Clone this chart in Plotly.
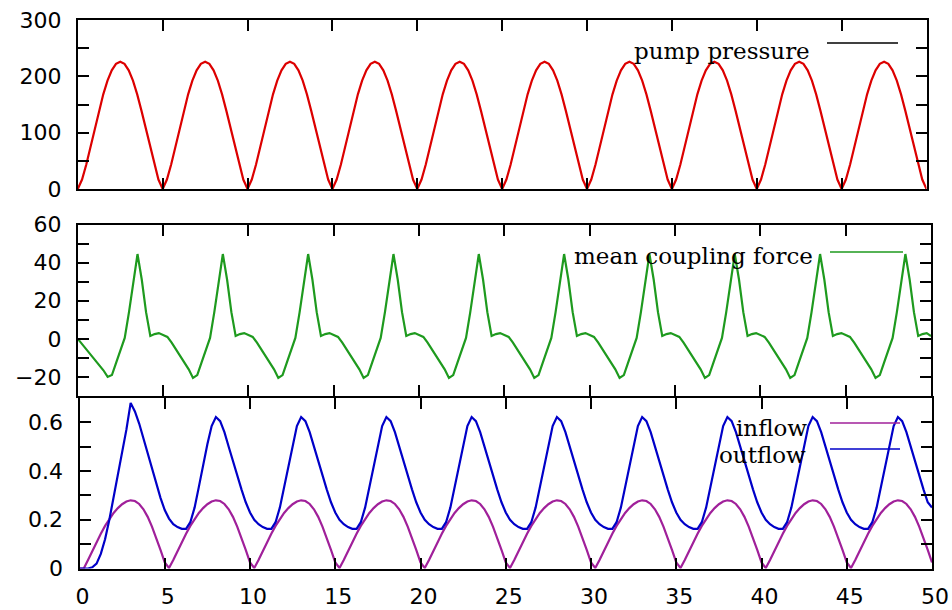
import numpy as np
import plotly.graph_objects as go

# ---- data -------------------------------------------------------------
# time axis (s), sampled every 0.25 s
time_s = np.round(np.arange(0, 50.001, 0.25), 2)

pump_pressure = [
    0, 16.8, 43.6, 74.8, 107.4, 139.1, 168, 192.3, 210.7, 222.1, 226, 222.1, 210.7, 192.3, 168, 139.1, 107.4, 74.8, 43.6, 16.8,
    0, 16.8, 43.6, 74.8, 107.4, 139.1, 168, 192.3, 210.7, 222.1, 226, 222.1, 210.7, 192.3, 168, 139.1, 107.4, 74.8, 43.6, 16.8,
    0, 16.8, 43.6, 74.8, 107.4, 139.1, 168, 192.3, 210.7, 222.1, 226, 222.1, 210.7, 192.3, 168, 139.1, 107.4, 74.8, 43.6, 16.8,
    0, 16.8, 43.6, 74.8, 107.4, 139.1, 168, 192.3, 210.7, 222.1, 226, 222.1, 210.7, 192.3, 168, 139.1, 107.4, 74.8, 43.6, 16.8,
    0, 16.8, 43.6, 74.8, 107.4, 139.1, 168, 192.3, 210.7, 222.1, 226, 222.1, 210.7, 192.3, 168, 139.1, 107.4, 74.8, 43.6, 16.8,
    0, 16.8, 43.6, 74.8, 107.4, 139.1, 168, 192.3, 210.7, 222.1, 226, 222.1, 210.7, 192.3, 168, 139.1, 107.4, 74.8, 43.6, 16.8,
    0, 16.8, 43.6, 74.8, 107.4, 139.1, 168, 192.3, 210.7, 222.1, 226, 222.1, 210.7, 192.3, 168, 139.1, 107.4, 74.8, 43.6, 16.8,
    0, 16.8, 43.6, 74.8, 107.4, 139.1, 168, 192.3, 210.7, 222.1, 226, 222.1, 210.7, 192.3, 168, 139.1, 107.4, 74.8, 43.6, 16.8,
    0, 16.8, 43.6, 74.8, 107.4, 139.1, 168, 192.3, 210.7, 222.1, 226, 222.1, 210.7, 192.3, 168, 139.1, 107.4, 74.8, 43.6, 16.8,
    0, 16.8, 43.6, 74.8, 107.4, 139.1, 168, 192.3, 210.7, 222.1, 226, 222.1, 210.7, 192.3, 168, 139.1, 107.4, 74.8, 43.6, 16.8,
    0,
]

mean_coupling_force = [
    0, -2.8, -5.5, -8.3, -11, -13.8, -16.5, -20, -19, -12.5, -6, 0.5, 14, 30, 44.5, 31, 14, 1.5, 2.5, 3,
    2, 1, -2, -5.5, -9, -12.5, -16, -20.5, -19, -12.5, -6, 0.5, 14, 30, 44.5, 31, 14, 1.5, 2.5, 3,
    2, 1, -2, -5.5, -9, -12.5, -16, -20.5, -19, -12.5, -6, 0.5, 14, 30, 44.5, 31, 14, 1.5, 2.5, 3,
    2, 1, -2, -5.5, -9, -12.5, -16, -20.5, -19, -12.5, -6, 0.5, 14, 30, 44.5, 31, 14, 1.5, 2.5, 3,
    2, 1, -2, -5.5, -9, -12.5, -16, -20.5, -19, -12.5, -6, 0.5, 14, 30, 44.5, 31, 14, 1.5, 2.5, 3,
    2, 1, -2, -5.5, -9, -12.5, -16, -20.5, -19, -12.5, -6, 0.5, 14, 30, 44.5, 31, 14, 1.5, 2.5, 3,
    2, 1, -2, -5.5, -9, -12.5, -16, -20.5, -19, -12.5, -6, 0.5, 14, 30, 44.5, 31, 14, 1.5, 2.5, 3,
    2, 1, -2, -5.5, -9, -12.5, -16, -20.5, -19, -12.5, -6, 0.5, 14, 30, 44.5, 31, 14, 1.5, 2.5, 3,
    2, 1, -2, -5.5, -9, -12.5, -16, -20.5, -19, -12.5, -6, 0.5, 14, 30, 44.5, 31, 14, 1.5, 2.5, 3,
    2, 1, -2, -5.5, -9, -12.5, -16, -20.5, -19, -12.5, -6, 0.5, 14, 30, 44.5, 31, 14, 1.5, 2.5, 3,
    1.5,
]

inflow = [
    0, 0, 0.035, 0.072, 0.108, 0.143, 0.175, 0.203, 0.228, 0.248, 0.264, 0.275, 0.28, 0.277, 0.265, 0.243, 0.212, 0.172, 0.126, 0.076,
    0.025, 0.002, 0.035, 0.072, 0.108, 0.143, 0.175, 0.203, 0.228, 0.248, 0.264, 0.275, 0.28, 0.277, 0.265, 0.243, 0.212, 0.172, 0.126, 0.076,
    0.025, 0.002, 0.035, 0.072, 0.108, 0.143, 0.175, 0.203, 0.228, 0.248, 0.264, 0.275, 0.28, 0.277, 0.265, 0.243, 0.212, 0.172, 0.126, 0.076,
    0.025, 0.002, 0.035, 0.072, 0.108, 0.143, 0.175, 0.203, 0.228, 0.248, 0.264, 0.275, 0.28, 0.277, 0.265, 0.243, 0.212, 0.172, 0.126, 0.076,
    0.025, 0.002, 0.035, 0.072, 0.108, 0.143, 0.175, 0.203, 0.228, 0.248, 0.264, 0.275, 0.28, 0.277, 0.265, 0.243, 0.212, 0.172, 0.126, 0.076,
    0.025, 0.002, 0.035, 0.072, 0.108, 0.143, 0.175, 0.203, 0.228, 0.248, 0.264, 0.275, 0.28, 0.277, 0.265, 0.243, 0.212, 0.172, 0.126, 0.076,
    0.025, 0.002, 0.035, 0.072, 0.108, 0.143, 0.175, 0.203, 0.228, 0.248, 0.264, 0.275, 0.28, 0.277, 0.265, 0.243, 0.212, 0.172, 0.126, 0.076,
    0.025, 0.002, 0.035, 0.072, 0.108, 0.143, 0.175, 0.203, 0.228, 0.248, 0.264, 0.275, 0.28, 0.277, 0.265, 0.243, 0.212, 0.172, 0.126, 0.076,
    0.025, 0.002, 0.035, 0.072, 0.108, 0.143, 0.175, 0.203, 0.228, 0.248, 0.264, 0.275, 0.28, 0.277, 0.265, 0.243, 0.212, 0.172, 0.126, 0.076,
    0.025, 0.002, 0.035, 0.072, 0.108, 0.143, 0.175, 0.203, 0.228, 0.248, 0.264, 0.275, 0.28, 0.277, 0.265, 0.243, 0.212, 0.172, 0.126, 0.076,
    0.025,
]

outflow = [
    0, 0, 0, 0.005, 0.02, 0.06, 0.12, 0.2, 0.29, 0.38, 0.47, 0.57, 0.68, 0.645, 0.595, 0.535, 0.47, 0.405, 0.345, 0.29,
    0.24, 0.205, 0.182, 0.17, 0.163, 0.163, 0.19, 0.25, 0.335, 0.425, 0.51, 0.585, 0.622, 0.605, 0.56, 0.5, 0.44, 0.38, 0.325, 0.272,
    0.23, 0.2, 0.182, 0.17, 0.163, 0.163, 0.19, 0.25, 0.335, 0.425, 0.51, 0.585, 0.622, 0.605, 0.56, 0.5, 0.44, 0.38, 0.325, 0.272,
    0.23, 0.2, 0.182, 0.17, 0.163, 0.163, 0.19, 0.25, 0.335, 0.425, 0.51, 0.585, 0.622, 0.605, 0.56, 0.5, 0.44, 0.38, 0.325, 0.272,
    0.23, 0.2, 0.182, 0.17, 0.163, 0.163, 0.19, 0.25, 0.335, 0.425, 0.51, 0.585, 0.622, 0.605, 0.56, 0.5, 0.44, 0.38, 0.325, 0.272,
    0.23, 0.2, 0.182, 0.17, 0.163, 0.163, 0.19, 0.25, 0.335, 0.425, 0.51, 0.585, 0.622, 0.605, 0.56, 0.5, 0.44, 0.38, 0.325, 0.272,
    0.23, 0.2, 0.182, 0.17, 0.163, 0.163, 0.19, 0.25, 0.335, 0.425, 0.51, 0.585, 0.622, 0.605, 0.56, 0.5, 0.44, 0.38, 0.325, 0.272,
    0.23, 0.2, 0.182, 0.17, 0.163, 0.163, 0.19, 0.25, 0.335, 0.425, 0.51, 0.585, 0.622, 0.605, 0.56, 0.5, 0.44, 0.38, 0.325, 0.272,
    0.23, 0.2, 0.182, 0.17, 0.163, 0.163, 0.19, 0.25, 0.335, 0.425, 0.51, 0.585, 0.622, 0.605, 0.56, 0.5, 0.44, 0.38, 0.325, 0.272,
    0.23, 0.2, 0.182, 0.17, 0.163, 0.163, 0.19, 0.25, 0.335, 0.425, 0.51, 0.585, 0.622, 0.605, 0.56, 0.5, 0.44, 0.38, 0.325, 0.272,
    0.25,
]

x_ticks = [0, 5, 10, 15, 20, 25, 30, 35, 40, 45, 50]
x_ticklabels = ["0", "5", "10", "15", "20", "25", "30", "35", "40", "45", "50"]
p_ticks = [0, 50, 100, 150, 200, 250, 300]
p_ticklabels = ["0", "", "100", "", "200", "", "300"]
f_ticks = [-30, -20, -10, 0, 10, 20, 30, 40, 50, 60]
f_ticklabels = ["", "\u221220", "", "0", "", "20", "", "40", "", "60"]
q_ticks = [0, 0.1, 0.2, 0.3, 0.4, 0.5, 0.6, 0.7]
q_ticklabels = ["0", "", "0.2", "", "0.4", "", "0.6", ""]

# ---- page geometry (pixels) ------------------------------------------
W, H = 952, 610


def fx(px):
    return px / W


def fy(py):
    return 1 - py / H


RED = "#dc0000"
GREEN = "#1e9a1e"
PURPLE = "#a0209a"
BLUE = "#0000c8"

tick_font = dict(family="DejaVu Sans", size=22, color="black")
key_font = dict(family="DejaVu Serif", size=23, color="black")

fig = go.Figure()
fig.add_trace(go.Scatter(x=time_s, y=pump_pressure, mode="lines", line=dict(color=RED, width=2.2),
                         xaxis="x", yaxis="y", name="pump pressure", showlegend=False))
fig.add_trace(go.Scatter(x=time_s, y=mean_coupling_force, mode="lines", line=dict(color=GREEN, width=2.2),
                         xaxis="x2", yaxis="y2", name="mean coupling force", showlegend=False))
fig.add_trace(go.Scatter(x=time_s, y=inflow, mode="lines", line=dict(color=PURPLE, width=2.2),
                         xaxis="x3", yaxis="y3", name="inflow", showlegend=False))
fig.add_trace(go.Scatter(x=time_s, y=outflow, mode="lines", line=dict(color=BLUE, width=2.2),
                         xaxis="x3", yaxis="y3", name="outflow", showlegend=False))

frame = dict(showline=True, linecolor="black", linewidth=2, mirror="ticks",
             ticks="inside", ticklen=11, tickwidth=1.6, tickcolor="black",
             showgrid=False, zeroline=False, tickfont=tick_font, automargin=False)


def xaxis(dom, labels, anchor):
    return dict(frame, domain=dom, range=[0, 50], tickvals=x_ticks,
                ticktext=x_ticklabels if labels else [""] * len(x_ticks),
                showticklabels=labels, anchor=anchor,
                ticklabelstandoff=7, ticklabelshift=3)


def yaxis(dom, rng, vals, text, anchor):
    return dict(frame, domain=dom, range=rng, tickvals=vals, ticktext=text,
                anchor=anchor, ticklabelstandoff=10)


fig.update_layout(
    width=W, height=H, autosize=False,
    margin=dict(l=0, r=0, t=0, b=0, pad=0, autoexpand=False),
    paper_bgcolor="white", plot_bgcolor="white",
    xaxis=xaxis([fx(77.8), fx(926.5)], False, "y"),
    yaxis=yaxis([fy(189), fy(20)], [0, 300], p_ticks, p_ticklabels, "x"),
    xaxis2=xaxis([fx(77.8), fx(931)], False, "y2"),
    yaxis2=yaxis([fy(396), fy(224.5)], [-30, 60], f_ticks, f_ticklabels, "x2"),
    xaxis3=xaxis([fx(79.5), fx(932)], True, "y3"),
    yaxis3=yaxis([fy(568.5), fy(398)], [0, 0.7], q_ticks, q_ticklabels, "x3"),
)

# key entries: label text followed by a short sample line
keys = [
    ("pump pressure", "black", 812, 51, 827, 898, 43),
    ("mean coupling force", GREEN, 815, 256, 830, 903, 252),
    ("inflow", PURPLE, 809, 428, 830, 900, 423),
    ("outflow", BLUE, 808, 455, 830, 900, 449),
]
for label, color, tx, ty, lx0, lx1, ly in keys:
    fig.add_annotation(text=label, x=fx(tx), y=fy(ty), xref="paper", yref="paper",
                       xanchor="right", yanchor="middle", showarrow=False, font=key_font)
    fig.add_shape(type="line", xref="paper", yref="paper",
                  x0=fx(lx0), x1=fx(lx1), y0=fy(ly), y1=fy(ly),
                  line=dict(color=color, width=1.6))

fig.write_html("out.html")
